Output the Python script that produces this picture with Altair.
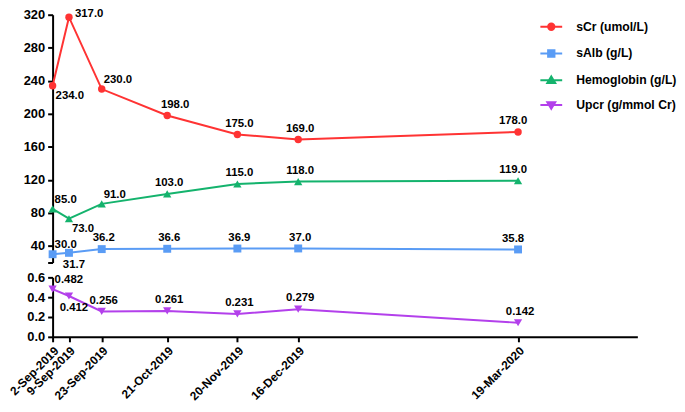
import altair as alt
import pandas as pd

# ---------------- data ----------------
DATES = ["2019-09-02", "2019-09-09", "2019-09-23", "2019-10-21",
         "2019-11-20", "2019-12-16", "2020-03-19"]
SERIES = ["sCr (umol/L)", "sAlb (g/L)", "Hemoglobin (g/L)", "Upcr (g/mmol Cr)"]
SCR = [234.0, 317.0, 230.0, 198.0, 175.0, 169.0, 178.0]
SALB = [30.0, 31.7, 36.2, 36.6, 36.9, 37.0, 35.8]
HGB = [85.0, 73.0, 91.0, 103.0, 115.0, 118.0, 119.0]
UPCR = [0.482, 0.412, 0.256, 0.261, 0.231, 0.279, 0.142]
TOP_TICKS = [20, 40, 80, 120, 160, 200, 240, 280, 320]
BOTTOM_TICKS = [0.0, 0.2, 0.4, 0.6]

# ---------------- style ----------------
COLORS = ["#FF3333", "#5A9CF5", "#14B36D", "#B340EB"]
SHAPES = ["circle", "square", "triangle-up", "triangle-down"]
SIZES = [56, 64, 70, 70]
LEGEND_PATHS = [
    "M-0.8,0A0.8,0.8,0,1,0,0.8,0A0.8,0.8,0,1,0,-0.8,0Z M-2.75,0L2.75,0",
    "M-0.8,-0.8L0.8,-0.8L0.8,0.8L-0.8,0.8Z M-2.75,0L2.75,0",
    "M0,-0.95L1,0.7L-1,0.7Z M-2.75,0L2.75,0",
    "M0,0.95L1,-0.7L-1,-0.7Z M-2.75,0L2.75,0",
]
# label placement per point (style only)
LBL = {
    SERIES[0]: ["BR", "R", "AR", "A8", "A", "A", "AL"],
    SERIES[1]: ["AR", "B", "A", "A", "A", "A", "AL"],
    SERIES[2]: ["AR", "BR", "AR", "A", "A", "A", "AL"],
    SERIES[3]: ["AR", "B", "A", "A", "A", "A", "A"],
}
PLACE = {
    "A": ("center", 2, -11),
    "A8": ("center", 8, -11),
    "AL": ("center", -5, -11),
    "AR": ("left", 2, -9),
    "BR": ("left", 3, 10),
    "B": ("center", 5, 12),
    "R": ("left", 6, -3),
}
FONT = "Liberation Sans"

rows = []
for s, vals in zip(SERIES, [SCR, SALB, HGB, UPCR]):
    for d, v, c in zip(DATES, vals, LBL[s]):
        rows.append({"date": d, "series": s, "value": v, "lbl": c})
df = pd.DataFrame(rows)
df_top = df[df.series != SERIES[3]]
df_bot = df[df.series == SERIES[3]]


def dt(s):
    y, m, d = map(int, s.split("-"))
    return alt.DateTime(year=y, month=m, date=d, utc=True)


x_domain = [dt("2019-09-02"), dt("2020-05-09")]
x_scale = alt.Scale(type="utc", domain=x_domain, nice=False)
# data colour scale (domain listed in reverse so it is not merged with the legend scales)
color_scale = alt.Scale(domain=SERIES[::-1], range=COLORS[::-1])


def panel(data, y_scale, y_axis, fmt, x_axis, with_legend):
    base = alt.Chart(data)
    X = alt.X("date:T", scale=x_scale, axis=x_axis, title=None)
    Y = alt.Y("value:Q", scale=y_scale, axis=y_axis, title=None)
    C = alt.Color("series:N", scale=color_scale, legend=None)
    layers = [base.mark_line(strokeWidth=2).encode(x=X, y=Y, color=C)]
    present = set(data.series)
    for s, shp, sz in zip(SERIES, SHAPES, SIZES):
        if s in present:
            layers.append(
                base.transform_filter(alt.datum.series == s)
                .mark_point(shape=shp, filled=True, size=sz, opacity=1)
                .encode(x=X, y=Y, color=C)
            )
    for code, (al, dx, dy) in PLACE.items():
        layers.append(
            base.transform_filter(alt.datum.lbl == code)
            .mark_text(align=al, dx=dx, dy=dy, font=FONT, fontSize=11.5,
                       fontWeight="bold", color="black")
            .encode(x=X, y=Y, text=alt.Text("value:Q", format=fmt))
        )
    if with_legend:
        leg = alt.Legend(
            title=None, orient="none", legendX=497, legendY=6,
            labelFont=FONT, labelFontSize=12.3, labelFontWeight="bold",
            labelColor="black", labelOffset=19, rowPadding=11, padding=0,
            symbolSize=64, symbolStrokeWidth=2,
        )
        layers.append(
            base.transform_filter("false")
            .mark_point(filled=True, size=64, opacity=1, strokeWidth=2)
            .encode(
                x=X, y=Y,
                fill=alt.Fill("series:N",
                              scale=alt.Scale(domain=SERIES, range=COLORS),
                              legend=leg),
                stroke=alt.Stroke("series:N",
                                  scale=alt.Scale(domain=SERIES, range=COLORS),
                                  legend=leg),
                shape=alt.Shape("series:N",
                                scale=alt.Scale(domain=SERIES, range=LEGEND_PATHS),
                                legend=leg),
            )
        )
    return alt.layer(*layers)


top = panel(
    df_top,
    alt.Scale(domain=[20, 320], nice=False, zero=False),
    alt.Axis(values=TOP_TICKS,
             labelExpr="datum.value == 20 ? '' : datum.label"),
    ".1f",
    None,
    True,
).properties(width=590, height=250)

bottom = panel(
    df_bot,
    alt.Scale(domain=[0, 0.6], nice=False),
    alt.Axis(values=BOTTOM_TICKS, format=".1f"),
    ".3f",
    alt.Axis(values=[dt(d) for d in DATES],
             labelExpr="utcFormat(datum.value, '%-d-%b-%Y')",
             labelAngle=-45, labelFontSize=12, labelOverlap=False),
    False,
).properties(width=590, height=60)

chart = (
    alt.vconcat(top, bottom, spacing=15, bounds="flush")
    .properties(padding={"left": -1, "top": -2, "right": 0, "bottom": 0},
                background="white")
    .configure_view(stroke=None)
    .configure_axis(
        grid=False, domainColor="black", domainWidth=2, tickColor="black",
        tickWidth=2, tickSize=5, labelFont=FONT, labelFontSize=13,
        labelFontWeight="bold", labelColor="black", labelPadding=3,
    )
)

chart.save("out.html", embed_options={"renderer": "svg", "actions": False})
